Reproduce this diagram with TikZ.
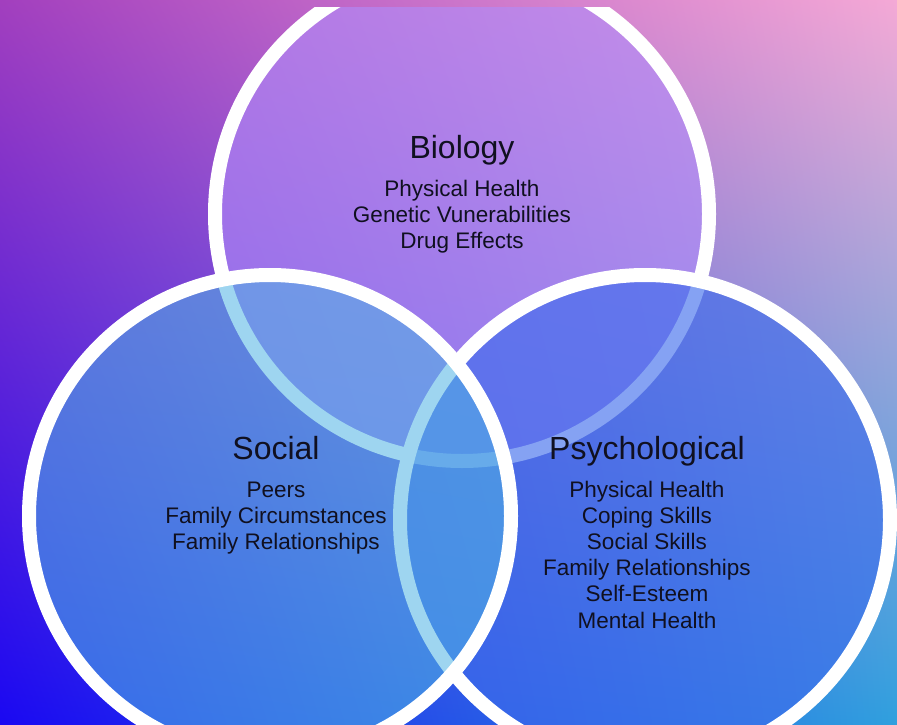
\documentclass[tikz,border=0pt]{standalone}
\usepackage{fontspec}
\setmainfont{Liberation Sans}
\usetikzlibrary{shadings}
\definecolor{bgTL}{RGB}{162,63,190}
\definecolor{bgTR}{RGB}{244,169,214}
\definecolor{bgBL}{RGB}{26,8,242}
\definecolor{bgBR}{RGB}{47,160,222}
\definecolor{bioFill}{RGB}{176,140,250}
\definecolor{socFill}{RGB}{80,180,228}
\definecolor{psyFill}{RGB}{62,108,236}
\definecolor{ink}{RGB}{16,16,32}
\tikzset{
  setring/.style={draw=white, line width=14pt},
  settitle/.style={inner sep=0pt, anchor=base, text=ink, font=\fontsize{32}{38}\selectfont},
  setitems/.style={inner sep=0pt, anchor=base, text=ink, font=\fontsize{22.5}{26.2}\selectfont},
}
\newcommand{\itemlist}[1]{\setlength{\tabcolsep}{0pt}\begin{tabular}[t]{c}#1\end{tabular}}
\begin{document}
\begin{tikzpicture}[x=1pt, y=-1pt]
  \useasboundingbox (0,0) rectangle (897,725);
  \clip (0,0) rectangle (897,725);
  % four-corner background gradient
  \shade[upper left=bgTL, upper right=bgTR, lower left=bgBL, lower right=bgBR]
    (0,0) rectangle (897,725);
  % the three sets, cut off along the top strip
  \begin{scope}
    \clip (0,8) rectangle (897,725);
    \coordinate (cBio) at (462,214);
    \coordinate (cPsy) at (645,520);
    \coordinate (cSoc) at (270,516);
    \fill[bioFill, fill opacity=0.6] (cBio) circle[radius=247pt];
    \draw[setring] (cBio) circle[radius=247pt];
    \fill[psyFill, fill opacity=0.63] (cPsy) circle[radius=245pt];
    \draw[setring] (cPsy) circle[radius=245pt];
    \fill[socFill, fill opacity=0.55] (cSoc) circle[radius=241pt];
    \draw[setring] (cSoc) circle[radius=241pt];
  \end{scope}
  % labels
  \node[settitle] (tBio) at (462,158) {Biology};
  \node[setitems] (iBio) at (462,196) {\itemlist{Physical Health\\Genetic Vunerabilities\\Drug Effects}};
  \node[settitle] (tSoc) at (276,459) {Social};
  \node[setitems] (iSoc) at (276,497) {\itemlist{Peers\\Family Circumstances\\Family Relationships}};
  \node[settitle] (tPsy) at (647,459) {Psychological};
  \node[setitems] (iPsy) at (647,497) {\itemlist{Physical Health\\Coping Skills\\Social Skills\\Family Relationships\\Self-Esteem\\Mental Health}};
\end{tikzpicture}
\end{document}
